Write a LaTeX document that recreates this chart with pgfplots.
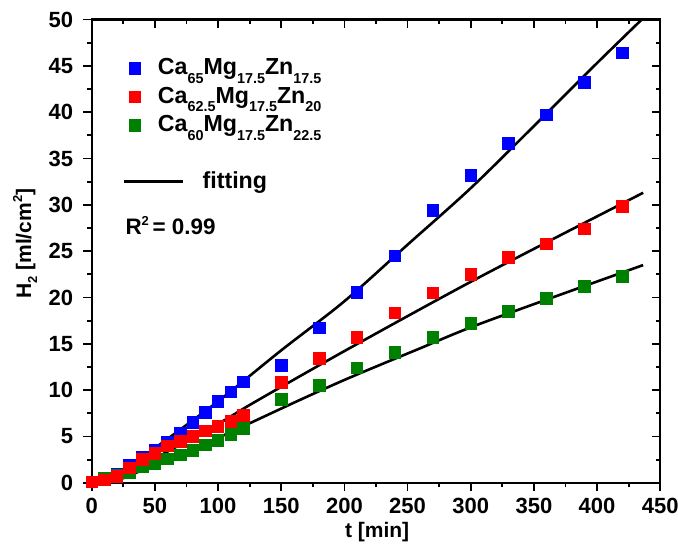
\documentclass[border=0pt]{standalone}
\usepackage{fontspec}
\setmainfont{Liberation Sans}
\usepackage{pgfplots}
\pgfplotsset{compat=1.18}
\definecolor{cblue}{RGB}{0,0,255}
\definecolor{cred}{RGB}{255,0,0}
\definecolor{cgreen}{RGB}{0,128,0}
\newcommand{\sub}[1]{\raisebox{-4.4pt}{\fontsize{7.2}{8}\selectfont\bfseries #1}}
\newcommand{\labsub}[1]{\raisebox{-3.0pt}{\fontsize{6.5}{7}\selectfont\bfseries #1}}
\newcommand{\labsup}[1]{\raisebox{4.5pt}{\fontsize{6.5}{7}\selectfont\bfseries #1}}
\begin{document}
\begin{tikzpicture}
\pgfplotsset{
  common/.style={
    at={(0,0)}, anchor=south west,
    scale only axis, width=284.3pt, height=231.75pt,
    xmin=0, xmax=450, ymin=0, ymax=50,
    xtick={0,50,...,450}, ytick={0,5,...,50},
    minor x tick num=1, minor y tick num=1,
    major tick length=4.3pt, minor tick length=2.2pt,
    tick style={black, line width=0.9pt},
  }
}
\begin{axis}[common,
  xtick pos=left, ytick pos=left, tick align=outside,
  axis line style={line width=1.1pt},
  /pgf/number format/assume math mode=true,
  ticklabel style={font=\fontsize{11}{12}\selectfont\bfseries},
  xticklabel style={yshift=0pt},
  yticklabel style={xshift=-1.5pt},
  xlabel={t [min]},
  ylabel={H\labsub{2} [ml/cm\labsup{2}]},
  label style={font=\fontsize{10.5}{12}\selectfont\bfseries},
  xlabel style={at={(axis description cs:0.502,-0.106)}, anchor=center},
  ylabel style={at={(axis description cs:-0.1175,0.516)}, anchor=center, rotate=0},
  legend style={draw=none, fill=none, inner sep=0pt, outer sep=0pt,
    at={(axis cs:29.7,45.8)}, anchor=north west,
    font=\fontsize{11.6}{13}\selectfont\bfseries,
    nodes={inner ysep=0pt, text height=8pt, text depth=6.3pt},
    /tikz/every odd column/.append style={column sep=6.5pt}},
  legend cell align=left,
  legend image code/.code={\draw[#1] plot coordinates {(2.9pt,2.3pt)};},
]
\addlegendimage{only marks, mark=square*, mark size=2.9pt, color=cblue}
\addlegendentry{Ca\sub{65}Mg\sub{17.5}Zn\sub{17.5}}
\addlegendimage{only marks, mark=square*, mark size=2.9pt, color=cred}
\addlegendentry{Ca\sub{62.5}Mg\sub{17.5}Zn\sub{20}}
\addlegendimage{only marks, mark=square*, mark size=2.9pt, color=cgreen}
\addlegendentry{Ca\sub{60}Mg\sub{17.5}Zn\sub{22.5}}

% Ca65Mg17.5Zn17.5
\addplot[only marks, mark=square*, mark size=2.9pt, color=cblue, forget plot] coordinates {
(10,0.4) (20,0.9) (30,1.95) (40,2.75) (50,3.5) (60,4.4) (70,5.4) (80,6.5) (90,7.6)
(100,8.8) (110,9.8) (120,10.9) (150,12.65) (180,16.7) (210,20.55) (240,24.5)
(270,29.4) (300,33.2) (330,36.6) (360,39.7) (390,43.2) (420,46.4)};
% Ca60Mg17.5Zn22.5
\addplot[only marks, mark=square*, mark size=2.9pt, color=cgreen, forget plot] coordinates {
(10,0.45) (20,0.8) (30,1.1) (40,1.8) (50,2.1) (60,2.6) (70,3.0) (80,3.5) (90,4.1)
(100,4.6) (110,5.2) (120,5.9) (150,9.0) (180,10.5) (210,12.4) (240,14.1)
(270,15.7) (300,17.2) (330,18.5) (360,19.9) (390,21.2) (420,22.3)};
% Ca62.5Mg17.5Zn20
\addplot[only marks, mark=square*, mark size=2.9pt, color=cred, forget plot] coordinates {
(0,0.1) (10,0.3) (20,0.7) (30,1.6) (40,2.5) (50,3.2) (60,4.0) (70,4.5) (80,5.0) (90,5.6)
(100,6.1) (110,6.6) (120,7.3) (150,10.85) (180,13.45) (210,15.7) (240,18.35)
(270,20.5) (300,22.5) (330,24.3) (360,25.8) (390,27.4) (420,29.8)};

% fitting lines
\addplot[black, line width=1.3pt, smooth, forget plot] coordinates {
(12,0) (50,3.75) (100,8.8) (150,14.3) (200,19.6) (250,25.7) (300,31.8) (350,38.5) (400,45.3) (435.4,50)};
\addplot[black, line width=1.3pt, smooth, forget plot] coordinates {
(14,0) (94,5.9) (130,8.8) (205,14.6) (307,22.2) (436.5,31.3)};
\addplot[black, line width=1.3pt, smooth, forget plot] coordinates {
(16,0) (94,4.5) (164,8.9) (205,11.4) (257,14.35) (310,17.3) (436.5,23.5)};

\node[anchor=west, inner sep=0pt, font=\fontsize{11.2}{13}\selectfont\bfseries]
  at (axis cs:26.4,27.8) {R\labsup{2}\,= 0.99};
\end{axis}

\begin{axis}[common,
  xtick pos=right, ytick pos=right, tick align=inside,
  xticklabels={}, yticklabels={},
  axis line style={draw=none},
  legend style={draw=none, fill=none, inner sep=0pt, outer sep=0pt,
    at={(axis cs:24.8,32.5)}, anchor=west,
    font=\fontsize{11.6}{13}\selectfont\bfseries,
    /tikz/every odd column/.append style={column sep=7pt}},
  legend image code/.code={\draw[#1] (0pt,0pt) -- (29.5pt,0pt);},
]
\addlegendimage{black, line width=1.3pt}
\addlegendentry{fitting}
\end{axis}
\pgfresetboundingbox
\path[use as bounding box] (-45.9pt,-33pt) rectangle (293.2pt,241.5pt);
\end{tikzpicture}
\end{document}
